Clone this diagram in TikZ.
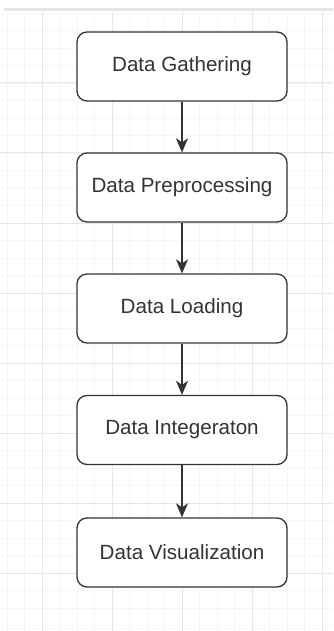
\documentclass[tikz,border=0pt]{standalone}
\usepackage{fontspec}
\setmainfont{Liberation Sans}
\usetikzlibrary{arrows.meta}
\definecolor{gridminor}{HTML}{F6F6F6}
\definecolor{gridmajor}{HTML}{E6E6E6}
\definecolor{edgegray}{HTML}{333333}
\begin{document}
\begin{tikzpicture}[
    x=1pt, y=-1pt,
    stage/.style={rectangle, rounded corners=10pt, draw=edgegray, line width=1.3pt, fill=white, text=edgegray, minimum width=210pt, minimum height=69pt, font=\fontsize{20.6}{24}\selectfont},
    flow/.style={-{Stealth[length=14pt, width=12pt, inset=4pt]}, line width=1.3pt, draw=edgegray},
    minorline/.style={gridminor, line width=0.8pt},
    majorline/.style={gridmajor, line width=1pt}
]
    \useasboundingbox (0,0) rectangle (333,631);

    % Background grid
    \foreach \gx in {7,24.5,...,333} \draw[minorline] (\gx,12) -- (\gx,631);
    \foreach \gy in {13,30.5,...,631} \draw[minorline] (0,\gy) -- (333,\gy);
    \foreach \gx in {42,112,...,333} \draw[majorline] (\gx,12) -- (\gx,631);
    \foreach \gy in {83,153,...,631} \draw[majorline] (0,\gy) -- (333,\gy);
    \draw[gridmajor, line width=3pt] (4,10) -- (333,10);

    % Stages
    \node[stage] (gathering) at (182,66.5) {Data Gathering};
    \node[stage] (preprocessing) at (182,187.5) {Data Preprocessing};
    \node[stage] (loading) at (182,308.5) {Data Loading};
    \node[stage] (integration) at (182,430) {Data Integeraton};
    \node[stage] (visualization) at (182,552.5) {Data Visualization};

    % Flow
    \draw[flow] (gathering) -- (preprocessing);
    \draw[flow] (preprocessing) -- (loading);
    \draw[flow] (loading) -- (integration);
    \draw[flow] (integration) -- (visualization);
\end{tikzpicture}
\end{document}
